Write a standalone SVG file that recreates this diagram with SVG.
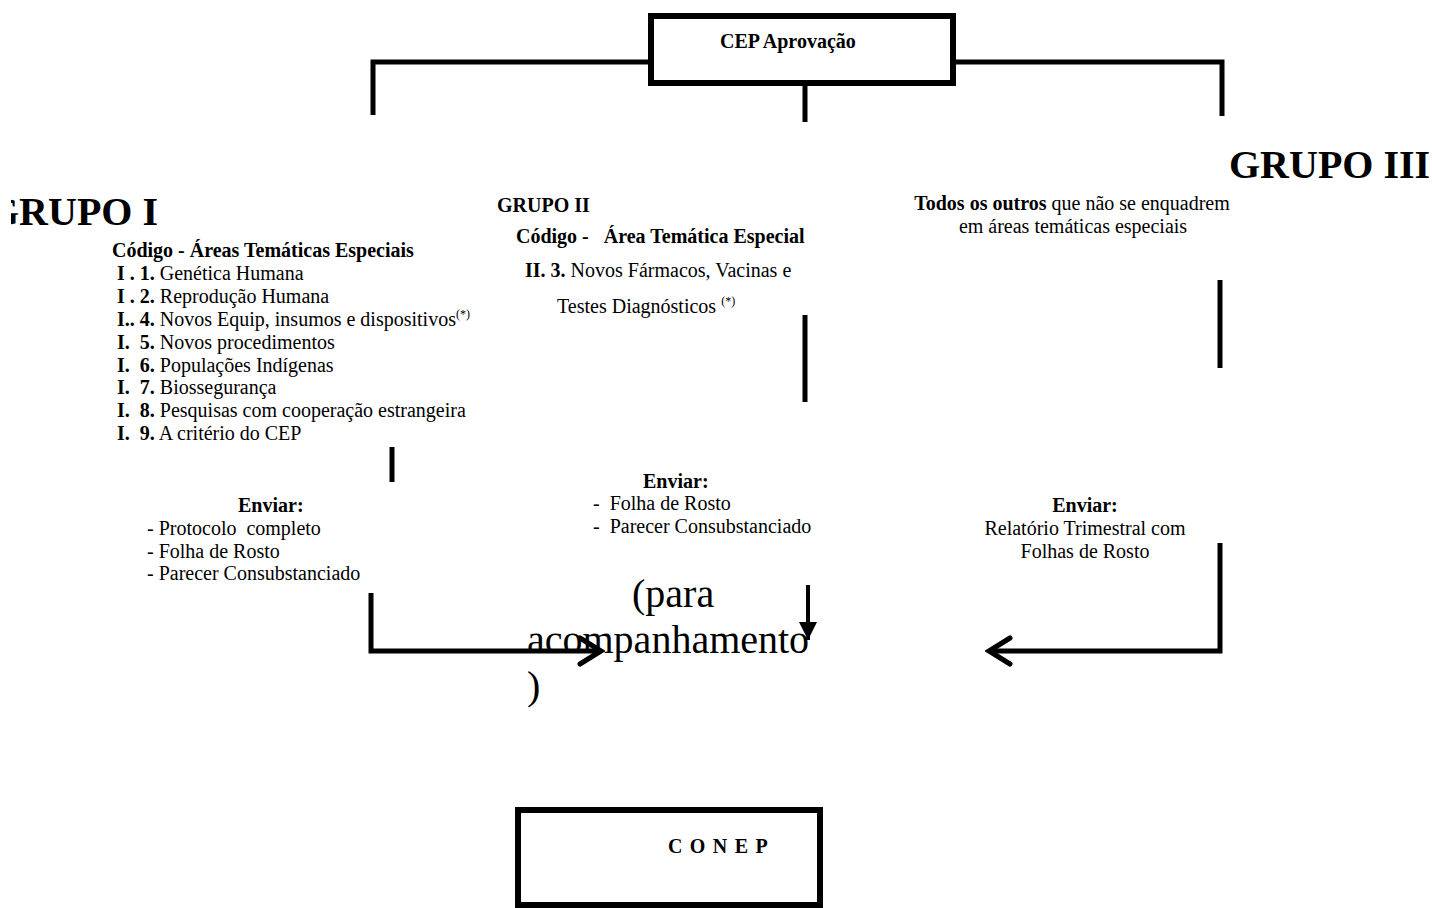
<svg xmlns="http://www.w3.org/2000/svg" width="1432" height="908" viewBox="0 0 1432 908">
<style>
text{font-family:"Liberation Serif","Times New Roman",serif;font-size:20px;fill:#000}
.b{font-weight:bold}
.big{font-size:40px;font-weight:bold}
.huge{font-size:40px}
.sup{font-size:12px}
.mid{text-anchor:middle}
.ln{stroke:#000;stroke-width:5;fill:none}
.box{stroke:#000;stroke-width:6;fill:#fff}
</style>
<defs>
<marker id="chev" markerUnits="userSpaceOnUse" viewBox="-26 -16 30 32" refX="0" refY="0" markerWidth="30" markerHeight="32" orient="auto">
<path d="M-21,-13 L0,0 L-21,13" stroke="#000" stroke-width="5" fill="none" stroke-linecap="round"/>
</marker>
<marker id="tri" markerUnits="userSpaceOnUse" viewBox="-20 -10 22 20" refX="0" refY="0" markerWidth="22" markerHeight="20" orient="auto">
<path d="M-18,-9 L0,0 L-18,9 Z" fill="#000"/>
</marker>
<clipPath id="clipG1"><rect x="11" y="0" width="500" height="908"/></clipPath>
</defs>

<g id="connectors">
<polyline class="ln" points="373,115 373,62 651,62"/>
<polyline class="ln" points="953,62 1222,62 1222,116"/>
<line class="ln" x1="805" y1="86" x2="805" y2="122"/>
<line class="ln" x1="392" y1="447" x2="392" y2="482"/>
<line class="ln" x1="805" y1="315" x2="805" y2="402"/>
<line class="ln" x1="1220" y1="280" x2="1220" y2="368"/>
<polyline class="ln" points="371,593 371,651 601,651" marker-end="url(#chev)"/>
<line x1="808" y1="585" x2="808" y2="640" stroke="#000" stroke-width="4" marker-end="url(#tri)"/>
<polyline class="ln" points="1220,543 1220,651 989,651" marker-end="url(#chev)"/>
</g>

<g id="cep">
<rect class="box" x="651" y="16" width="302" height="67"/>
<text class="b" x="720" y="48">CEP Aprovação</text>
</g>

<g id="grupo1">
<text class="big" x="-12" y="225" clip-path="url(#clipG1)">GRUPO I</text>
<text class="b" x="112" y="257">Código - Áreas Temáticas Especiais</text>
<text x="117" y="280" xml:space="preserve"><tspan class="b">I . 1.</tspan> Genética Humana</text>
<text x="117" y="303" xml:space="preserve"><tspan class="b">I . 2.</tspan> Reprodução Humana</text>
<text x="117" y="326" xml:space="preserve"><tspan class="b">I.. 4.</tspan> Novos Equip, insumos e dispositivos<tspan class="sup" dy="-8">(*)</tspan></text>
<text x="117" y="349" xml:space="preserve"><tspan class="b">I.  5.</tspan> Novos procedimentos</text>
<text x="117" y="372" xml:space="preserve"><tspan class="b">I.  6.</tspan> Populações Indígenas</text>
<text x="117" y="394" xml:space="preserve"><tspan class="b">I.  7.</tspan> Biossegurança</text>
<text x="117" y="417" xml:space="preserve"><tspan class="b">I.  8.</tspan> Pesquisas com cooperação estrangeira</text>
<text x="117" y="440" xml:space="preserve"><tspan class="b">I.  9.</tspan> A critério do CEP</text>
</g>

<g id="grupo2">
<text class="b" x="497" y="212">GRUPO II</text>
<text class="b" x="516" y="243" xml:space="preserve">Código -   Área Temática Especial</text>
<text x="525" y="277"><tspan class="b">II. 3.</tspan> Novos Fármacos, Vacinas e</text>
<text x="557" y="313" xml:space="preserve">Testes Diagnósticos <tspan class="sup" dy="-8">(*)</tspan></text>
</g>

<g id="grupo3">
<text class="big" x="1229" y="178">GRUPO III</text>
<text class="mid" x="1072" y="210"><tspan class="b">Todos os outros</tspan> que não se enquadrem</text>
<text class="mid" x="1073" y="233">em áreas temáticas especiais</text>
</g>

<g id="enviar1">
<text class="b" x="238" y="512">Enviar:</text>
<text x="147" y="535" xml:space="preserve">- Protocolo  completo</text>
<text x="147" y="558">- Folha de Rosto</text>
<text x="147" y="580">- Parecer Consubstanciado</text>
</g>

<g id="enviar2">
<text class="b" x="643" y="488">Enviar:</text>
<text x="593" y="510" xml:space="preserve">-  Folha de Rosto</text>
<text x="593" y="533" xml:space="preserve">-  Parecer Consubstanciado</text>
</g>

<g id="enviar3">
<text class="b mid" x="1085" y="512">Enviar:</text>
<text class="mid" x="1085" y="535">Relatório Trimestral com</text>
<text class="mid" x="1085" y="558">Folhas de Rosto</text>
</g>

<g id="acompanhamento">
<text class="huge" x="632" y="607">(para</text>
<text class="huge" x="527" y="653">acompanhamento</text>
<text class="huge" x="527" y="699">)</text>
</g>

<g id="conep">
<rect class="box" x="518" y="810" width="302" height="95"/>
<text class="b" x="668" y="853" letter-spacing="1.2">C O N E P</text>
</g>
</svg>
